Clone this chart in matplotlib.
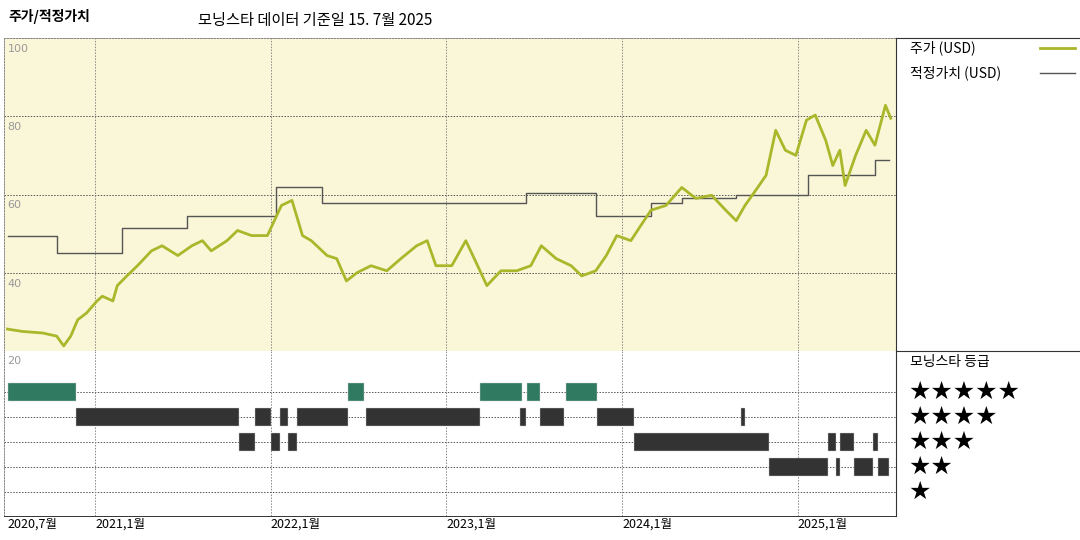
import matplotlib
matplotlib.use("Agg")
import matplotlib.pyplot as plt
from matplotlib.lines import Line2D

plt.rcParams["font.family"] = ["Noto Sans CJK KR", "DejaVu Sans"]

# price (USD), decimal year
PRICE_T = [2020.50, 2020.585, 2020.70, 2020.78, 2020.82, 2020.86, 2020.90, 2020.95, 2021.01, 2021.04,
           2021.10, 2021.125, 2021.18, 2021.24, 2021.32, 2021.38, 2021.47, 2021.55, 2021.61, 2021.66,
           2021.75, 2021.81, 2021.89, 2021.98, 2022.06, 2022.12, 2022.18, 2022.23, 2022.32, 2022.375,
           2022.43, 2022.49, 2022.57, 2022.66, 2022.74, 2022.83, 2022.89, 2022.94, 2023.03, 2023.11,
           2023.17, 2023.23, 2023.31, 2023.40, 2023.48, 2023.54, 2023.625, 2023.71, 2023.77, 2023.85,
           2023.91, 2023.97, 2024.05, 2024.11, 2024.165, 2024.25, 2024.34, 2024.42, 2024.51, 2024.59,
           2024.65, 2024.70, 2024.76, 2024.82, 2024.875, 2024.93, 2024.99, 2025.05, 2025.10, 2025.16,
           2025.20, 2025.24, 2025.27, 2025.33, 2025.39, 2025.44, 2025.50, 2025.53]
PRICE = [25.6, 25.0, 24.6, 23.8, 21.3, 23.8, 28.0, 29.7, 32.8, 34.0,
         32.8, 36.7, 39.2, 41.8, 45.6, 46.9, 44.4, 46.9, 48.2, 45.6,
         48.2, 50.8, 49.5, 49.5, 57.2, 58.5, 49.5, 48.2, 44.4, 43.6,
         37.9, 40.0, 41.8, 40.5, 43.6, 46.9, 48.2, 41.8, 41.8, 48.2,
         42.5, 36.7, 40.5, 40.5, 41.8, 46.9, 43.6, 41.8, 39.2, 40.5,
         44.4, 49.5, 48.2, 52.3, 56.0, 57.2, 61.8, 59.0, 59.8, 56.0,
         53.3, 57.2, 61.0, 64.9, 76.4, 71.3, 70.0, 79.0, 80.3, 73.8,
         67.4, 71.3, 62.3, 70.0, 76.4, 72.6, 82.8, 79.5]

# fair value steps (start year, value)
FV_T = [2020.50, 2020.78, 2021.15, 2021.52, 2022.03, 2022.29, 2023.45, 2023.85,
        2024.165, 2024.34, 2024.65, 2025.06, 2025.44, 2025.52]
FV = [49.5, 45.0, 51.5, 54.6, 61.8, 57.7, 60.5, 54.6, 57.7, 59.2, 59.8, 64.9, 68.7, 68.7]

# Morningstar rating periods (start, end)
RATINGS = {
    5: [(2020.50, 2020.89), (2022.44, 2022.53), (2023.19, 2023.43), (2023.46, 2023.53), (2023.68, 2023.86)],
    4: [(2020.89, 2021.82), (2021.91, 2022.00), (2022.05, 2022.10), (2022.15, 2022.44), (2022.54, 2023.19),
        (2023.42, 2023.45), (2023.53, 2023.67), (2023.86, 2024.07), (2024.68, 2024.70)],
    3: [(2021.82, 2021.91), (2022.00, 2022.05), (2022.10, 2022.15), (2024.07, 2024.835),
        (2025.175, 2025.22), (2025.24, 2025.32), (2025.43, 2025.46)],
    2: [(2024.835, 2025.175), (2025.22, 2025.24), (2025.32, 2025.43), (2025.46, 2025.52)],
}
RATING_COLORS = {5: "#2f7a60", 4: "#333333", 3: "#333333", 2: "#333333"}

YEAR_TICKS = [2020.5, 2021.0, 2022.0, 2023.0, 2024.0, 2025.0]
YEAR_LABELS = ["2020,7월", "2021,1월", "2022,1월", "2023,1월", "2024,1월", "2025,1월"]
PRICE_TICKS = [100, 80, 60, 40, 20]

XMIN, XMAX = 2020.48, 2025.56
W, H = 1080, 540
fig = plt.figure(figsize=(10.8, 5.4), dpi=100)
L, R = 4 / W, 896 / W
ax = fig.add_axes([L, 1 - 351 / H, R - L, (351 - 38) / H])
axr = fig.add_axes([L, 1 - 516 / H, R - L, (516 - 351) / H])

grid_kw = dict(color="#555555", linestyle=(0, (1.5, 1.5)), linewidth=0.7)

ax.set_facecolor("#faf6d8")
ax.set_xlim(XMIN, XMAX)
ax.set_ylim(20, 100)
for y in PRICE_TICKS:
    ax.axhline(y, **grid_kw, zorder=1)
    ax.text(XMIN + 0.02, y - 1.5, str(y), fontsize=8, color="#999999", va="top", ha="left",
            family="DejaVu Sans")
for t in YEAR_TICKS[1:]:
    ax.axvline(t, color="#888888", linestyle=(0, (1.5, 1.5)), linewidth=0.7, zorder=1)
ax.plot(PRICE_T, PRICE, color="#aab72a", linewidth=2, zorder=3)
ax.step(FV_T, FV, where="post", color="#555555", linewidth=1.0, zorder=2)
ax.set_xticks([]); ax.set_yticks([])
for s in ax.spines.values():
    s.set_color("#888888"); s.set_linestyle((0, (1.5, 1.5))); s.set_linewidth(0.7)
ax.spines["right"].set_visible(False)

axr.set_xlim(XMIN, XMAX)
axr.set_ylim(0.04, 6.64)
for r in [5, 4, 3, 2, 1]:
    axr.axhline(r, **grid_kw, zorder=1)
for t in YEAR_TICKS[1:]:
    axr.axvline(t, color="#888888", linestyle=(0, (1.5, 1.5)), linewidth=0.7, zorder=1)
for r, segs in RATINGS.items():
    axr.broken_barh([(a, b - a) for a, b in segs], (r - 0.36, 0.72),
                    facecolors=RATING_COLORS[r], edgecolor="#cccccc", linewidth=0.3, zorder=3)
axr.text(XMIN + 0.02, 6.45, "20", fontsize=8, color="#999999", va="top", ha="left",
         family="DejaVu Sans")
axr.set_yticks([])
axr.set_xticks(YEAR_TICKS)
axr.set_xticklabels(YEAR_LABELS, fontsize=9, ha="left")
axr.tick_params(axis="x", length=0, pad=1)
for s in axr.spines.values():
    s.set_color("#888888"); s.set_linestyle((0, (1.5, 1.5))); s.set_linewidth(0.7)
axr.spines["right"].set_visible(False)
axr.spines["top"].set_visible(False)
axr.spines["bottom"].set_linestyle("-"); axr.spines["bottom"].set_color("#333333")

# frame lines of the legend area
fig.add_artist(Line2D([R, R], [1 - 516 / H, 1 - 38 / H], color="#333333", linewidth=0.8))
fig.add_artist(Line2D([R, 1], [1 - 38 / H, 1 - 38 / H], color="#333333", linewidth=0.8))
fig.add_artist(Line2D([R, 1], [1 - 351 / H, 1 - 351 / H], color="#333333", linewidth=0.8))

# titles
fig.text(8 / W, 1 - 17 / H, "주가/적정가치", fontsize=10, fontweight="bold", va="center")
fig.text(198 / W, 1 - 20 / H, "모닝스타 데이터 기준일 15. 7월 2025", fontsize=11, va="center")

# legend
fig.text(910 / W, 1 - 48 / H, "주가 (USD)", fontsize=10, va="center")
fig.add_artist(Line2D([1040 / W, 1075 / W], [1 - 48 / H] * 2, color="#aab72a", linewidth=2))
fig.text(910 / W, 1 - 73 / H, "적정가치 (USD)", fontsize=10, va="center")
fig.add_artist(Line2D([1040 / W, 1075 / W], [1 - 73 / H] * 2, color="#555555", linewidth=1))
fig.text(910 / W, 1 - 362 / H, "모닝스타 등급", fontsize=10, va="center")
for r in [5, 4, 3, 2, 1]:
    fig.text(908 / W, 1 - (392 + (5 - r) * 25) / H, "★" * r, fontsize=18, va="center",
             family=["DejaVu Sans"])

fig.savefig("out.png", dpi=100)
